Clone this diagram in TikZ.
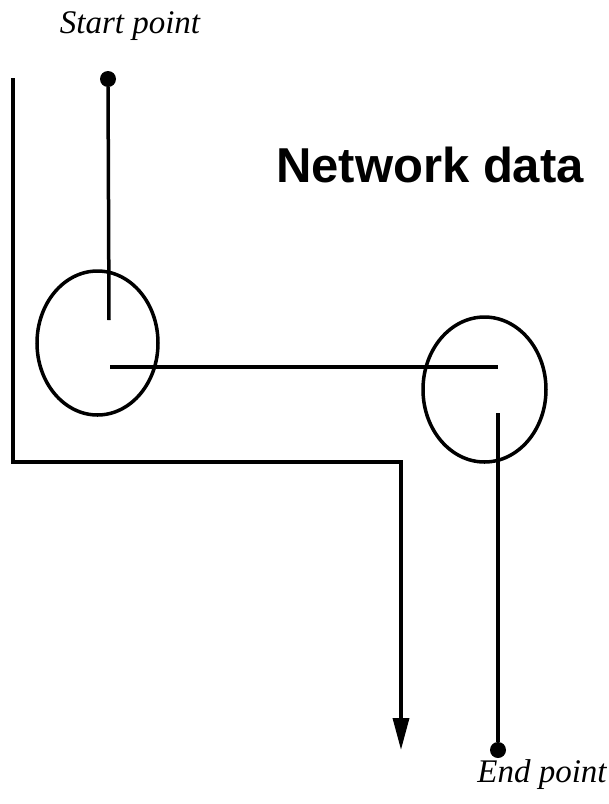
\documentclass[tikz,border=0pt]{standalone}
\usepackage{fontspec}
\setmainfont{Liberation Serif}
\newfontfamily\headfont{Liberation Sans}
\usetikzlibrary{positioning}
\usetikzlibrary{shapes.geometric}
\usetikzlibrary{arrows.meta}

\tikzset{
  wire/.style={line width=3.5pt},
  dotnode/.style={circle, fill, inner sep=0pt, minimum size=16pt},
  cell/.style={ellipse, draw, line width=3.5pt, inner sep=0pt},
  tag/.style={font=\fontsize{33}{36}\selectfont\itshape, anchor=base}
}

\begin{document}
\begin{tikzpicture}[x=1pt, y=-1pt]
    \useasboundingbox (0,0) rectangle (609,804);

    % start and end
    \node[dotnode] (start) at (108,79) {};
    \node[dotnode] (end) at (498,750) {};
    \node[tag] (startlbl) at (130,33) {Start point};
    \node[tag] (endlbl) at (542,782) {End point};

    % the two cells
    \node[cell, minimum width=121pt, minimum height=144pt] (cellA) at (97.5,343) {};
    \node[cell, minimum width=123pt, minimum height=145pt] (cellB) at (484.5,389.5) {};
    \coordinate (a1) at (109,320);
    \coordinate (a2) at (110,367);
    \coordinate (b1) at (498,367);
    \coordinate (b2) at (498,413);

    \node[font=\headfont\fontsize{49}{54}\selectfont\bfseries, anchor=base] (title) at (430,182) {Network data};

    % outline of the network data
    \coordinate (n1) at (13,78);
    \coordinate (n2) at (13,462);
    \coordinate (n3) at (401,462);
    \coordinate (n4) at (401,750);

    \draw[wire] (start) -- (a1);
    \draw[wire] (a2) -- (b1);
    \draw[wire] (b2) -- (end);
    \draw[wire, -{Triangle[length=32pt, width=16pt]}] (n1) -- (n2) -- (n3) -- (n4);
\end{tikzpicture}
\end{document}
